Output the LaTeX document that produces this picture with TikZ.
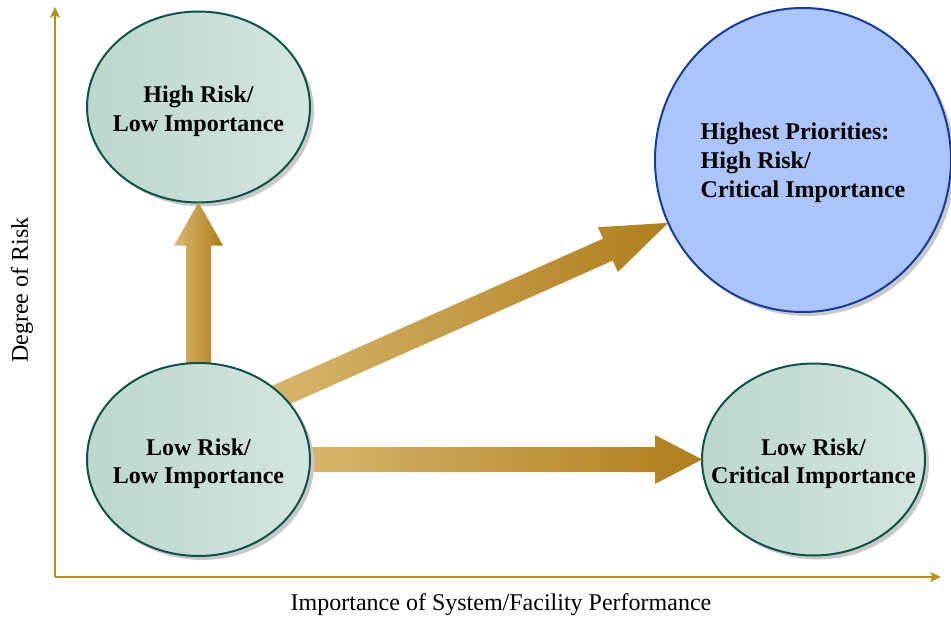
\documentclass[tikz,border=0pt]{standalone}
\usepackage{fontspec}
\setmainfont{Liberation Serif}
\usetikzlibrary{shapes.geometric,shadows,calc,arrows.meta}
\definecolor{ellfillA}{HTML}{BCD7CD}
\definecolor{ellfillB}{HTML}{D3E5DF}
\definecolor{elldraw}{HTML}{0D5446}
\definecolor{hpfill}{HTML}{ABC5FA}
\definecolor{hpdraw}{HTML}{163C9A}
\definecolor{axiscol}{HTML}{C08B12}
\definecolor{arrlight}{HTML}{D8B870}
\definecolor{arrdark}{HTML}{AF7E1C}
\definecolor{shadowcol}{HTML}{C9C9C9}
\newcommand\blockarr[5]{%
  \path ($(#2)!#5!(#1)$) coordinate (bhh);
  \shade[left color=arrlight,right color=arrdark]
    ($(#1)!#3!90:(#2)$) -- ($(bhh)!#3!90:(#2)$) -- ($(bhh)!#4!90:(#2)$) -- (#2)
    -- ($(bhh)!#4!-90:(#2)$) -- ($(bhh)!#3!-90:(#2)$) -- ($(#1)!#3!-90:(#2)$) -- cycle;}
\begin{document}
\begin{tikzpicture}[x=1pt,y=-1pt,
  shadowed/.style={drop shadow={shadow xshift=4pt,shadow yshift=-4pt,fill=shadowcol,opacity=1}},
  greenell/.style={ellipse,shadowed,draw=elldraw,line width=2pt,left color=ellfillA,right color=ellfillB,
     inner sep=0pt,outer sep=0pt},
  blueell/.style={ellipse,shadowed,draw=hpdraw,line width=2pt,fill=hpfill,inner sep=0pt,outer sep=0pt},
  gtext/.style={align=center,font=\fontsize{24}{28.5}\selectfont\bfseries,inner sep=0pt,yshift=-4pt},
  btext/.style={align=left,font=\fontsize{24}{29}\selectfont\bfseries,inner sep=0pt,yshift=-3pt},
  axis/.style={draw=axiscol,line width=2pt,-{Stealth[length=11pt,width=10pt,inset=3pt]}},
  axlabel/.style={font=\fontsize{24}{28}\selectfont}]
\useasboundingbox (0,0) rectangle (951,621);
% axes
\coordinate (O) at (55,577);
\coordinate (ytop) at (55,7);
\coordinate (xend) at (941,577);
\draw[axis] (O) -- (ytop);
\draw[axis] (O) -- (xend);
% target nodes
\node[greenell,minimum width=223pt,minimum height=191pt,
  label={[gtext]center:High Risk/\\Low Importance}] (hrl) at (198.5,107) {};
\node[greenell,minimum width=223pt,minimum height=192pt,
  label={[gtext]center:Low Risk/\\Critical Importance}] (lrc) at (813.5,459.5) {};
\node[blueell,minimum width=296pt,minimum height=304pt,
  label={[btext]center:Highest Priorities:\\High Risk/\\Critical Importance}] (hp) at (803,160) {};
% source node (position only, drawn after the arrows)
\path (198.5,459.5) coordinate (lrlc);
\node[ellipse,minimum width=223pt,minimum height=193pt,inner sep=0pt,outer sep=0pt] (lrlpos) at (lrlc) {};
% arrows
\coordinate (a1s) at ($(lrlpos.north)+(0,20)$);
\coordinate (a1e) at (hrl.south);
\blockarr{a1s}{a1e}{12.5pt}{24.5pt}{43pt}
\coordinate (a2s) at ($(lrlpos.east)+(-20,0)$);
\coordinate (a2e) at (lrc.west);
\blockarr{a2s}{a2e}{12.5pt}{24.5pt}{47pt}
\coordinate (a3t) at (hp.205);
\coordinate (a3b) at (lrlpos.38);
\coordinate (a3s) at ($(a3b)!-25pt!(a3t)$);
\blockarr{a3s}{a3t}{12pt}{24.5pt}{66pt}
% source node drawn on top
\node[greenell,minimum width=223pt,minimum height=193pt,
  label={[gtext]center:Low Risk/\\Low Importance}] (lrl) at (lrlc) {};
% labels
\node[axlabel] (xl) at (501,605) {Importance of System/Facility Performance};
\node[axlabel,rotate=90] (yl) at (22,290) {Degree of Risk};
\end{tikzpicture}
\end{document}
